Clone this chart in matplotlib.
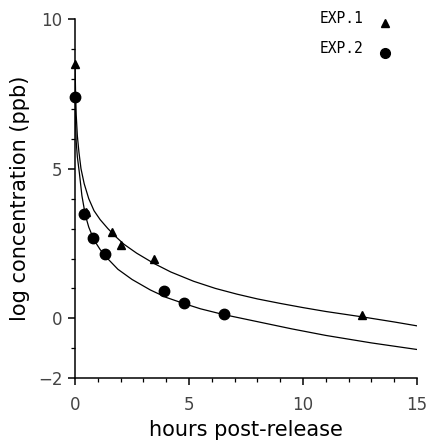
import matplotlib
matplotlib.use("Agg")
import matplotlib.pyplot as plt
from matplotlib.ticker import FixedLocator, MultipleLocator

# measured points
exp1_t = [0.0, 0.5, 1.6, 2.0, 3.45, 12.6]
exp1_y = [8.5, 3.55, 2.88, 2.45, 1.97, 0.1]
exp2_t = [0.0, 0.4, 0.8, 1.32, 3.9, 4.76, 6.55]
exp2_y = [7.4, 3.5, 2.68, 2.14, 0.92, 0.5, 0.13]

# fitted curves
fit1_t = [0.0, 0.02, 0.05, 0.1, 0.17, 0.26, 0.4, 0.6, 0.83, 1.1, 1.44, 1.8, 2.14,
          2.7, 3.45, 4.2, 5.2, 6.16, 7.1, 8.0, 9.0, 10.0, 11.0, 12.6, 14.0, 15.0]
fit1_y = [8.5, 7.6, 6.8, 6.1, 5.55, 5.0, 4.5, 4.0, 3.6, 3.3, 3.0, 2.72, 2.48,
          2.18, 1.84, 1.55, 1.24, 1.0, 0.81, 0.65, 0.5, 0.36, 0.23, 0.05, -0.12, -0.25]
fit2_t = [0.0, 0.02, 0.05, 0.1, 0.19, 0.3, 0.45, 0.6, 0.83, 1.1, 1.4, 1.88, 2.5,
          3.3, 4.0, 4.76, 5.5, 6.5, 8.0, 9.5, 11.0, 13.0, 15.0]
fit2_y = [7.4, 6.6, 5.9, 5.4, 4.85, 4.1, 3.45, 3.05, 2.62, 2.3, 2.02, 1.64, 1.3,
          0.95, 0.7, 0.5, 0.32, 0.13, -0.11, -0.35, -0.57, -0.82, -1.04]

x_major = [0, 5, 10, 15]
y_major = [-2, 0, 5, 10]

fig = plt.figure(figsize=(4.29, 4.46), dpi=100)
ax = fig.add_axes([0.175, 0.152, 0.797, 0.805])

ax.plot(fit1_t, fit1_y, color="black", lw=0.9)
ax.plot(fit2_t, fit2_y, color="black", lw=0.9)
ax.plot(exp1_t, exp1_y, "^", color="black", ms=6, clip_on=False)
ax.plot(exp2_t, exp2_y, "o", color="black", ms=7.5, clip_on=False)

ax.set_xlim(0, 15)
ax.set_ylim(-2, 10)
for s in ["top", "right"]:
    ax.spines[s].set_visible(False)
for s in ["left", "bottom"]:
    ax.spines[s].set_linewidth(1.1)

ax.xaxis.set_major_locator(FixedLocator(x_major))
ax.xaxis.set_minor_locator(MultipleLocator(1))
ax.yaxis.set_major_locator(FixedLocator(y_major))
ax.yaxis.set_minor_locator(MultipleLocator(1))
ax.tick_params(which="major", length=5, width=1.1, labelsize=12, colors="black")
ax.tick_params(axis="x", which="major", pad=8)
ax.tick_params(axis="y", which="major", pad=4)
ax.tick_params(which="minor", length=3, width=0.9)
ax.set_xticklabels([str(v) for v in x_major], color="#444444")
ax.set_yticklabels([str(v).replace("-", "\u2212") for v in y_major], color="#444444")

ax.set_xlabel("hours post-release", fontsize=15, labelpad=4)
ax.set_ylabel("log concentration (ppb)", fontsize=15, labelpad=6)

# legend
ax.text(0.842, 1.003, "EXP.1", transform=ax.transAxes, ha="right", va="center",
        family="DejaVu Sans Mono", fontsize=10.5)
ax.text(0.842, 0.919, "EXP.2", transform=ax.transAxes, ha="right", va="center",
        family="DejaVu Sans Mono", fontsize=10.5)
ax.plot([0.906], [0.989], "^", color="black", ms=6, transform=ax.transAxes, clip_on=False)
ax.plot([0.906], [0.905], "o", color="black", ms=7, transform=ax.transAxes, clip_on=False)

fig.savefig("out.png", dpi=100)
